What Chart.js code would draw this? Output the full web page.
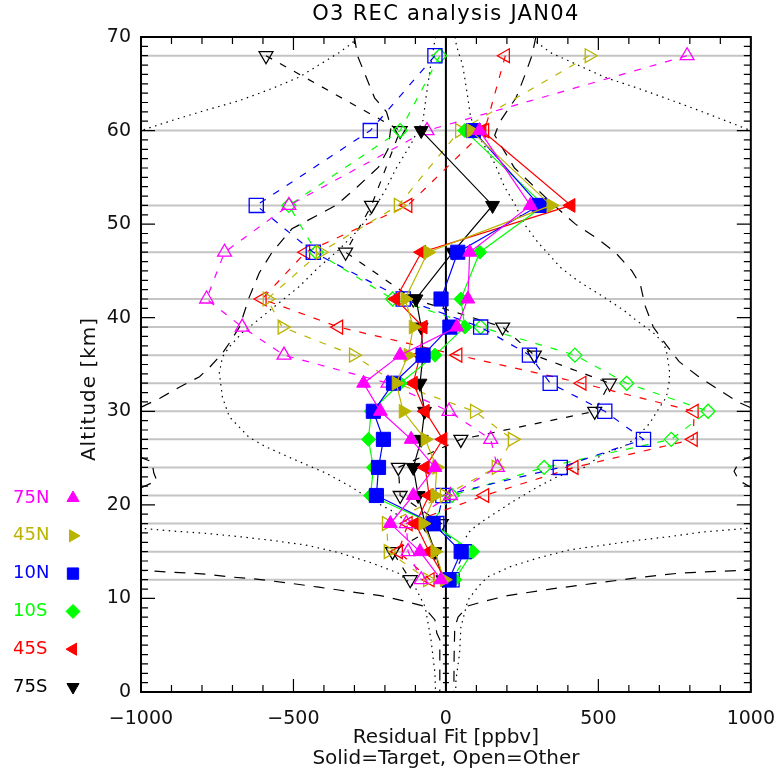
<!DOCTYPE html>
<html>
<head>
<meta charset="utf-8">
<script src="https://cdn.jsdelivr.net/npm/chart.js@4/dist/chart.umd.min.js"></script>
<style>
  html, body { margin: 0; padding: 0; background: #fff; }
  #wrap { width: 783px; height: 778px; }
</style>
</head>
<body>
<div id="wrap"><canvas id="chart"></canvas></div>
<script>
// latitude bands
const bands = ['75N', '45N', '10N', '10S', '45S', '75S'];
const bandColors = ['#ff00ff', '#bab400', '#0000ff', '#00ff00', '#ff0000', '#000000'];
const bandStyles = ['triangle', 'triangle', 'rect', 'rectRot', 'triangle', 'triangle'];
const bandRotation = [0, 90, 0, 0, -90, 180];
const bandRadius = [8, 8, 10, 7, 8, 8];

// solid = target (filled markers)
const targetAlt = [60, 52, 47, 42, 39, 36, 33, 30, 27, 24, 21, 18, 15, 12];
const target75N = [110, 277, 78, 72, 36, -150, -270, -215, -114, -36, -107, -182, -85, -16];
const target45N = [82, 345, -59, -134, -107, -124, -163, -140, -68, -30, -36, -75, -36, -5];
const target10N = [90, 306, 39, -16, 13, -75, -172, -238, -205, -221, -228, -42, 50, 10];
const target10S = [62, 322, 111, 49, 62, -36, -150, -245, -254, -238, -247, -45, 88, 29];
const target45S = [118, 410, -80, -165, -75, -85, -107, -68, -10, -68, -55, -100, -55, 0];
const target75S = [-81, 153, 23, -98, -81, -75, -85, -70, -81, -107, -91, -68, -36, -10];

// open = other (hollow markers, dashed)
const otherAlt = [68, 60, 52, 47, 42, 39, 36, 33, 30, 27, 24, 21, 18, 15, 12];
const other75N = [791, -62, -515, -726, -785, -668, -531, -190, 10, 147, 169, 15, -130, -124, -81];
const other45N = [470, 45, -156, -412, -586, -537, -303, -165, 94, 218, 165, -5, -195, -189, -60];
const other10N = [-36, -248, -622, -435, -140, 114, 274, 342, 521, 648, 375, -10, -30, 60, 20];
const other10S = [-20, -150, -515, -425, -175, 114, 423, 593, 860, 739, 322, 20, -50, 80, 17];
const other45S = [195, 127, -125, -460, -603, -352, 39, 446, 814, 811, 420, 127, -124, -156, -52];
const other75S = [-590, -150, -244, -329, -107, 186, 290, 537, 488, 49, -156, -150, -15, -175, -117];

// retrieval levels (grey lines)
const levelAlt = [68, 60, 52, 47, 42, 39, 36, 33, 30, 27, 24, 21, 18, 15, 12];

// envelopes (dashed)
const dashRightAlt = [70, 68, 66, 63.5, 61, 59.5, 56, 52, 50, 48.5, 47, 45, 43.5, 41.3, 39, 37, 35.3, 33.8, 32.3, 31, 29.5, 27, 25.2, 24.6, 23.6, 22.6, 21.5, 18, 15, 13.4, 13.0, 12.9, 12.7, 12.2, 11.6, 11.0, 10.3, 9.7, 9.2, 8, 6.9, 4, 0];
const dashRightX = [295, 282, 260, 230, 178, 160, 225, 355, 425, 495, 555, 610, 638, 653, 680, 725, 765, 825, 895, 958, 1060, 1120, 1000, 962, 945, 961, 1020, 1150, 1150, 1030, 974, 896, 765, 625, 485, 342, 202, 127, 72, 40, 29, 27, 26];
const dashLeftAlt = [70, 68, 63.5, 62, 60.4, 58, 56.1, 54, 52, 49.5, 47, 44.8, 42.2, 39, 37.3, 36.2, 34.7, 33.7, 32.6, 31.4, 30.9, 29.5, 27, 25.1, 24.6, 23.4, 22.6, 21.5, 18, 15, 13.4, 13.0, 12.8, 12.6, 12.3, 12.1, 11.6, 11.2, 10.9, 10.6, 10.3, 9.8, 9.2, 7.7, 6.3, 5.6, 2, 0];
const dashLeftX = [-300, -290, -234, -195, -180, -190, -221, -290, -361, -505, -570, -612, -645, -677, -710, -733, -775, -808, -873, -938, -970, -1060, -1120, -1003, -964, -958, -948, -1020, -1150, -1150, -1040, -1000, -896, -785, -710, -629, -505, -417, -352, -287, -215, -147, -75, -36, -30, -20, -20, -20];

// envelopes (dotted, outer)
const dotOuterRightAlt = [70, 69.3, 68.3, 67, 65.7, 64.5, 63.2, 61.9, 60, 58.5, 19, 17.5, 17.1, 16.6, 16.2, 15.7, 15.2, 14.3, 13.4, 12.3, 11.2, 9.8, 6.9, 4.2, 1.3, 0];
const dotOuterRightX = [285, 303, 345, 433, 521, 632, 743, 850, 1000, 1200, 1300, 993, 843, 733, 625, 518, 407, 300, 212, 137, 104, 72, 49, 45, 33, 32];
const dotOuterLeftAlt = [70, 69.3, 68.3, 67, 65.7, 64.5, 63.2, 62.2, 61.1, 60, 58.5, 19, 17.5, 17.2, 16.95, 16.6, 16.2, 15.7, 14.9, 13.8, 12.7, 11.2, 9.1, 5.6, 2, 0];
const dotOuterLeftX = [-290, -309, -352, -417, -482, -570, -677, -785, -896, -1000, -1200, -1300, -1000, -896, -785, -677, -570, -459, -352, -244, -156, -101, -68, -49, -36, -34];

// envelopes (dotted, inner)
const dotInnerRightAlt = [70, 69, 67, 63.5, 61.4, 59, 56.5, 54, 52.2, 50, 48, 46.5, 45.4, 44, 42.2, 40.8, 39.7, 38.4, 37.3, 36.5, 34.4, 33.3, 31.5, 30.4, 28.7, 27.2, 26.2, 25.5, 24, 23, 21.9, 20.2, 18.4, 17.3, 16.5];
const dotInnerRightX = [30, 35, 55, 72, 81, 115, 160, 192, 225, 257, 303, 345, 375, 430, 518, 583, 625, 680, 713, 723, 733, 733, 723, 700, 668, 625, 583, 518, 453, 365, 300, 212, 127, 81, 65];
const dotInnerLeftAlt = [70, 69.7, 67.2, 63.6, 61.1, 58.6, 55.8, 53.6, 51.2, 49.4, 47.3, 45.4, 43.3, 41.6, 40.1, 38.4, 36.9, 35.8, 34.1, 31.5, 29.4, 27.2, 26.2, 25.1, 23.4, 21.9, 20.5, 19.4, 18, 17];
const dotInnerLeftX = [-33, -36, -49, -65, -75, -114, -166, -199, -244, -287, -350, -417, -482, -547, -603, -668, -710, -733, -743, -733, -710, -645, -590, -515, -394, -309, -244, -179, -120, -85];

const targetVals = [target75N, target45N, target10N, target10S, target45S, target75S];
const otherVals = [other75N, other45N, other10N, other10S, other45S, other75S];

function pts(alts, vals) {
  return alts.map((a, i) => ({ x: vals[i], y: a }));
}

const datasets = [];

bands.forEach((b, i) => {
  const c = bandColors[i];
  datasets.push({
    label: b + ' target',
    data: pts(targetAlt, targetVals[i]),
    showLine: true,
    borderColor: c,
    borderWidth: 1.2,
    pointStyle: bandStyles[i],
    rotation: bandRotation[i],
    pointRadius: bandRadius[i],
    pointBackgroundColor: c,
    pointBorderColor: c,
    pointBorderWidth: 1,
    order: 1
  });
});

bands.forEach((b, i) => {
  const c = bandColors[i];
  datasets.push({
    label: b + ' other',
    data: pts(otherAlt, otherVals[i]),
    showLine: true,
    borderColor: c,
    borderWidth: 1.2,
    borderDash: [7, 9],
    pointStyle: bandStyles[i],
    rotation: bandRotation[i],
    pointRadius: bandRadius[i],
    pointBackgroundColor: 'rgba(0,0,0,0)',
    pointBorderColor: c,
    pointBorderWidth: 1.3,
    order: 2
  });
});

const envelopes = [
  [dashRightAlt, dashRightX, [11, 9]],
  [dashLeftAlt, dashLeftX, [11, 9]],
  [dotOuterRightAlt, dotOuterRightX, [1.5, 4.5]],
  [dotOuterLeftAlt, dotOuterLeftX, [1.5, 4.5]],
  [dotInnerRightAlt, dotInnerRightX, [1.5, 4.5]],
  [dotInnerLeftAlt, dotInnerLeftX, [1.5, 4.5]]
];
envelopes.forEach(e => {
  datasets.push({
    data: pts(e[0], e[1]),
    showLine: true,
    borderColor: '#000',
    borderWidth: 1.2,
    borderDash: e[2],
    pointRadius: 0,
    order: 5
  });
});

datasets.push({
  data: [{ x: 0, y: 0 }, { x: 0, y: 70 }],
  showLine: true,
  borderColor: '#000',
  borderWidth: 2,
  pointRadius: 0,
  order: 4
});

levelAlt.forEach(a => {
  datasets.push({
    data: [{ x: -1000, y: a }, { x: 1000, y: a }],
    showLine: true,
    borderColor: '#c4c4c4',
    borderWidth: 2,
    pointRadius: 0,
    order: 9
  });
});

const frame = {
  id: 'frame',
  afterDatasetsDraw(chart) {
    const { ctx, chartArea: a, scales: { x, y } } = chart;
    ctx.save();
    ctx.strokeStyle = '#000';
    ctx.lineWidth = 1.2;
    ctx.beginPath();
    for (let v = -1000; v <= 1000; v += 100) {
      const px = x.getPixelForValue(v);
      const len = v % 500 === 0 ? 13 : 7;
      ctx.moveTo(px, a.bottom); ctx.lineTo(px, a.bottom - len);
      ctx.moveTo(px, a.top); ctx.lineTo(px, a.top + len);
    }
    for (let h = 0; h <= 70; h++) {
      const py = y.getPixelForValue(h);
      const len = h % 10 === 0 ? 14 : 7;
      ctx.moveTo(a.left, py); ctx.lineTo(a.left + len, py);
      ctx.moveTo(a.right, py); ctx.lineTo(a.right - len, py);
    }
    const x0 = x.getPixelForValue(0);
    for (let h = 1; h <= 10; h++) {
      const py = y.getPixelForValue(h);
      ctx.moveTo(x0 - 3, py); ctx.lineTo(x0 + 3, py);
    }
    ctx.stroke();
    ctx.lineWidth = 2;
    ctx.strokeRect(a.left, a.top, a.right - a.left, a.bottom - a.top);

    // titles
    ctx.fillStyle = '#000';
    ctx.textAlign = 'center';
    ctx.textBaseline = 'middle';
    ctx.font = '21px "DejaVu Sans"';
    ctx.letterSpacing = '1.3px';
    ctx.fillText('O3 REC analysis JAN04', (a.left + a.right) / 2, 15);
    ctx.save();
    ctx.font = '20px "DejaVu Sans"';
    ctx.letterSpacing = '1px';
    ctx.fillStyle = '#111';
    ctx.translate(90, 389);
    ctx.rotate(-Math.PI / 2);
    ctx.fillText('Altitude [km]', 0, 0);
    ctx.restore();
    ctx.letterSpacing = '0px';

    // legend of latitude bands
    ctx.font = '18px "DejaVu Sans"';
    ctx.textAlign = 'left';
    bands.forEach((b, i) => {
      const ly = 498 + i * 37.8;
      ctx.fillStyle = bandColors[i];
      ctx.strokeStyle = bandColors[i];
      ctx.lineWidth = 1;
      ctx.fillText(b, 13, ly);
      Chart.helpers.drawPoint(ctx, {
        pointStyle: bandStyles[i],
        rotation: bandRotation[i],
        radius: bandStyles[i] === 'rect' ? 8 : 7,
        borderWidth: 1
      }, 73, ly);
    });
    ctx.restore();
  }
};

const tickFont = { family: 'DejaVu Sans', size: 19 };

new Chart(document.getElementById('chart'), {
  type: 'scatter',
  data: { datasets },
  options: {
    responsive: true,
    maintainAspectRatio: false,
    animation: false,
    events: [],
    layout: { padding: { left: 0, right: 28, top: 37, bottom: 0 } },
    plugins: {
      legend: { display: false },
      tooltip: { enabled: false },
      title: { display: false }
    },
    scales: {
      x: {
        type: 'linear',
        min: -1000,
        max: 1000,
        grid: { display: false },
        border: { display: false },
        ticks: {
          stepSize: 500,
          color: '#111',
          font: tickFont,
          padding: 8,
          maxRotation: 0,
          callback: v => String(v).replace('-', '\u2212')
        },
        title: {
          display: true,
          text: ['Residual Fit [ppbv]', 'Solid=Target, Open=Other'],
          color: '#111',
          font: { family: 'DejaVu Sans', size: 20, lineHeight: 1.05 },
          padding: { top: 2, bottom: 9 }
        },
        afterFit(s) { s.height = 86; }
      },
      y: {
        type: 'linear',
        min: 0,
        max: 70,
        grid: { display: false },
        border: { display: false },
        ticks: { stepSize: 10, color: '#111', font: tickFont, padding: 2 },
        title: { display: false },
        afterFit(s) { s.width = 141; }
      }
    }
  },
  plugins: [frame]
});
</script>
</body>
</html>
